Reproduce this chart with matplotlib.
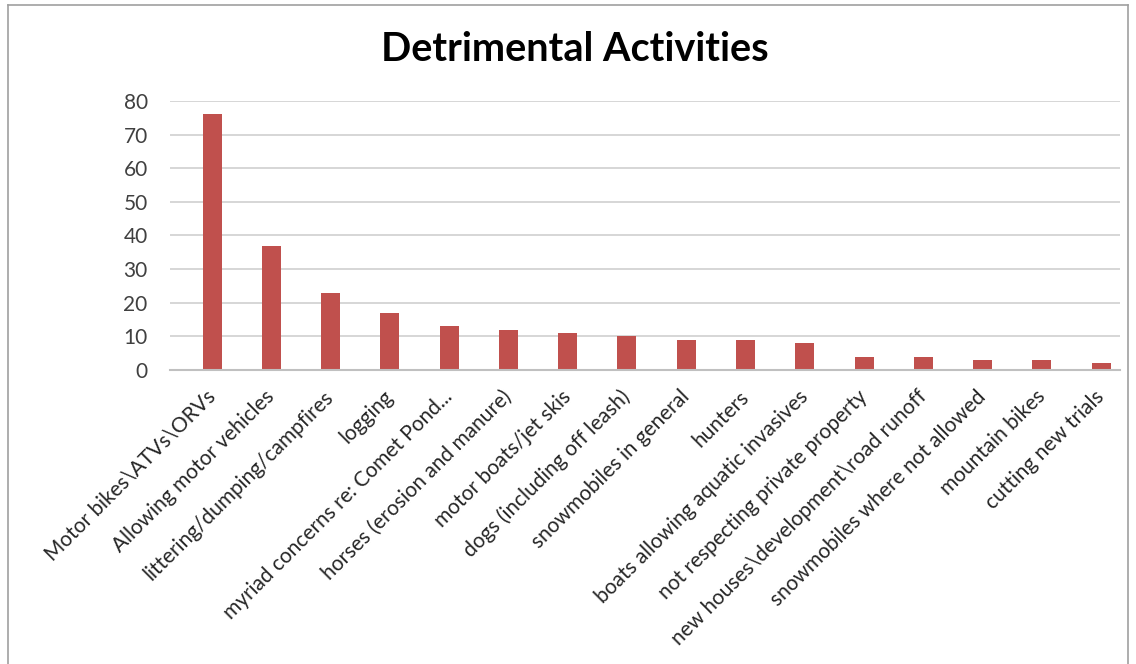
import matplotlib
matplotlib.use('Agg')
import matplotlib.pyplot as plt
from matplotlib.lines import Line2D

activities = [
    r"Motor bikes\ATVs\ORVs",
    "Allowing motor vehicles",
    "littering/dumping/campfires",
    "logging",
    "myriad concerns re: Comet Pond...",
    "horses (erosion and manure)",
    "motor boats/jet skis",
    "dogs (including off leash)",
    "snowmobiles in general",
    "hunters",
    "boats allowing aquatic invasives",
    "not respecting private property",
    r"new houses\development\road runoff",
    "snowmobiles where not allowed",
    "mountain bikes",
    "cutting new trials",
]
counts = [76, 37, 23, 17, 13, 12, 11, 10, 9, 9, 8, 4, 4, 3, 3, 2]
y_ticks = [0, 10, 20, 30, 40, 50, 60, 70, 80]

plt.rcParams['font.family'] = ['Lato', 'DejaVu Sans']

fig = plt.figure(figsize=(11.36, 6.64), dpi=100)
ax = fig.add_axes([0.1496, 0.4428, 0.8364, 0.4051])

x = list(range(len(activities)))
ax.bar(x, counts, width=0.32, color='#c0504d', zorder=3)

ax.set_ylim(0, 80)
ax.set_yticks(y_ticks)
ax.set_xlim(-0.71, 15.32)
ax.set_xticks(x)
ax.set_xticklabels(activities, rotation=45, ha='right', va='center',
                   rotation_mode='anchor', fontsize=15, color='#262626')
ax.tick_params(axis='x', length=0, pad=17)
ax.tick_params(axis='y', length=0, pad=16, labelsize=15, labelcolor='#404040')
ax.grid(axis='y', color='#d0d0d0', linewidth=1.2, zorder=0)
for side in ['top', 'right', 'left']:
    ax.spines[side].set_visible(False)
ax.spines['bottom'].set_color('#c0c0c0')
ax.spines['bottom'].set_linewidth(1.5)
ax.spines['bottom'].set_zorder(4)

fig.text(0.506, 0.925, "Detrimental Activities", ha='center', va='center',
         fontsize=28.5, fontweight='bold', color='black')

# chart frame
fig.add_artist(Line2D([0.007, 0.007], [0.0, 0.992], color='#a0a0a0', lw=1.2))
fig.add_artist(Line2D([0.007, 0.993], [0.992, 0.992], color='#a0a0a0', lw=1.2))
fig.add_artist(Line2D([0.993, 0.993], [0.0, 0.992], color='#a0a0a0', lw=1.2))

fig.savefig('out.png', dpi=100)
